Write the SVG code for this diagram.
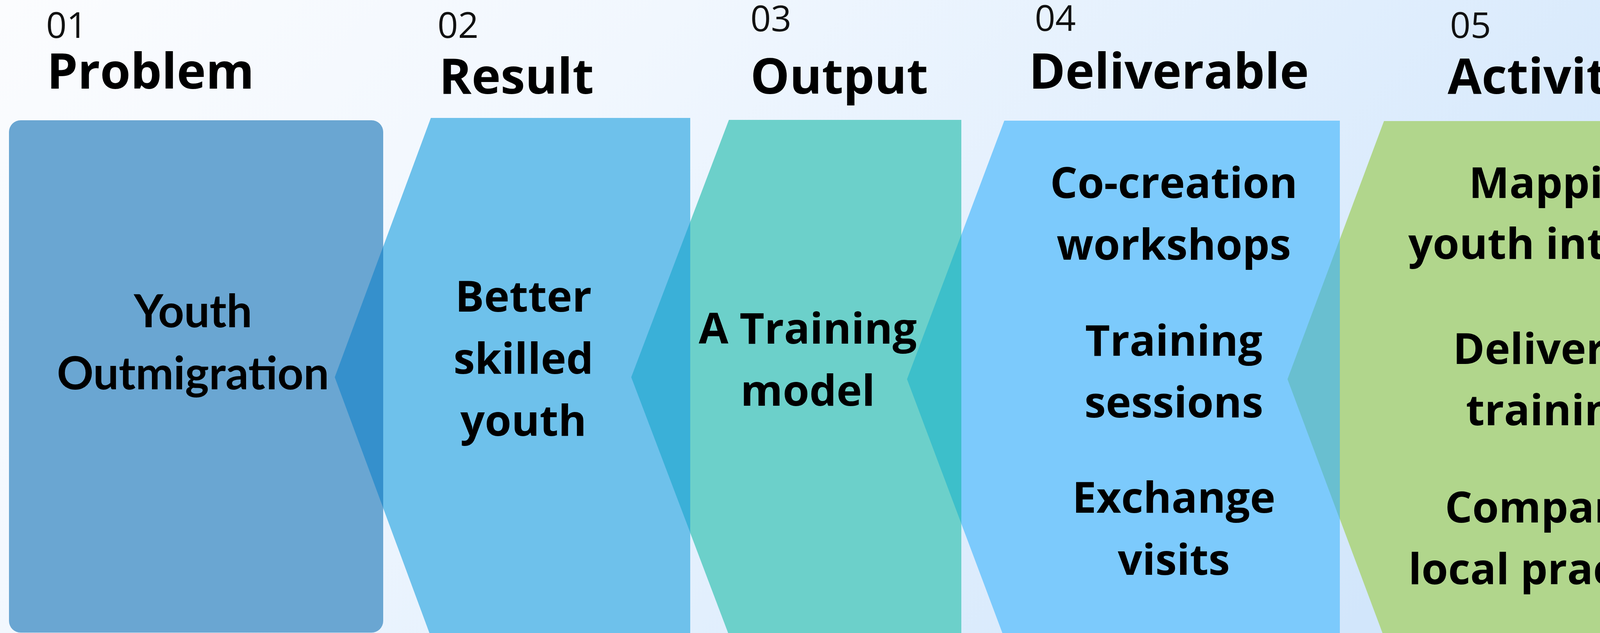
<svg xmlns="http://www.w3.org/2000/svg" width="4471" height="1621" viewBox="0 0 4471 1621">
  <defs>
    <linearGradient id="bg" x1="0" y1="0" x2="1" y2="0.35">
      <stop offset="0" stop-color="#fbfcfe"/>
      <stop offset="0.35" stop-color="#f1f7fe"/>
      <stop offset="0.7" stop-color="#e0eefd"/>
      <stop offset="1" stop-color="#d2e6fb"/>
    </linearGradient>
    <style>
      .num { font-family: "Open Sans", "Liberation Sans", sans-serif; font-weight: 400; font-size: 92px; fill: #111; }
      .head { font-family: "Open Sans", "Liberation Sans", sans-serif; font-weight: 700; font-size: 126px; fill: #000; }
      .body { font-family: "Open Sans", "Liberation Sans", sans-serif; font-weight: 700; font-size: 110px; fill: #000; text-anchor: middle; }
      .body2 { font-family: "Lato", "Liberation Sans", sans-serif; font-weight: 700; font-size: 116px; fill: #000; text-anchor: middle; }
    </style>
  </defs>

  <rect x="0" y="0" width="4471" height="1621" fill="url(#bg)"/>

  <!-- shapes, bottom to top -->
  <g id="activity">
    <polygon points="3543,310 4480,310 4480,1650 3550,1650 3296,971" fill="#b1d68c"/>
    <circle cx="4629" cy="1464" r="273" fill="none" stroke="#c1de88" stroke-width="65"/>
  </g>
  <g id="deliverable">
    <polygon points="2571,309 3430,309 3430,1650 2577,1650 2322,971" fill="#7ccafc"/>
  </g>
  <g id="output">
    <polygon points="1866,307 2461,307 2461,1650 1875,1650 1616,966" fill="#6cd0ca"/>
  </g>
  <g id="result">
    <polygon points="1103,302 1767,302 1767,1650 1110,1650 857,966" fill="#6ec1eb"/>
  </g>
  <g id="problem">
    <rect x="23" y="308" width="958" height="1312" rx="30" ry="30" fill="#6aa6d2"/>
  </g>

  <!-- overlap regions between adjacent chevrons -->
  <g id="connectors">
    <polygon points="981,631 857,966 981,1301" fill="#3590cc"/>
    <polygon points="1767,568 1616,966 1767,1364" fill="#3ab0d8"/>
    <polygon points="2461,601 2322,971 2461,1341" fill="#3dbfca"/>
    <polygon points="3430,612 3296,971 3430,1330" fill="#69bfd0"/>
  </g>

  <!-- headers -->
  <g id="headers">
    <text class="num" x="118" y="97">01</text>
    <text class="head" x="120" y="227">Problem</text>
    <text class="num" x="1120" y="97">02</text>
    <text class="head" x="1124" y="240">Result</text>
    <text class="num" x="1921" y="80">03</text>
    <text class="head" x="1921" y="240">Output</text>
    <text class="num" x="2649" y="79">04</text>
    <text class="head" x="2634" y="227">Deliverable</text>
    <text class="num" x="3712" y="97">05</text>
    <text class="head" x="3706" y="240">Activity</text>
  </g>

  <!-- node labels -->
  <g id="problem-label">
    <text class="body2" x="494" y="838">Youth</text>
    <text class="body2" x="494" y="997">Outmigration</text>
  </g>
  <g id="result-label">
    <text class="body" x="1340" y="798">Better</text>
    <text class="body" x="1340" y="957">skilled</text>
    <text class="body" x="1340" y="1116">youth</text>
  </g>
  <g id="output-label">
    <text class="body" x="2068" y="880">A Training</text>
    <text class="body" x="2068" y="1039">model</text>
  </g>
  <g id="deliverable-label">
    <text class="body" x="3005" y="507">Co-creation</text>
    <text class="body" x="3005" y="665">workshops</text>
    <text class="body" x="3005" y="911">Training</text>
    <text class="body" x="3005" y="1069">sessions</text>
    <text class="body" x="3005" y="1313">Exchange</text>
    <text class="body" x="3005" y="1472">visits</text>
  </g>
  <g id="activity-label">
    <text class="body" x="3999" y="507">Mapping</text>
    <text class="body" x="3999" y="663">youth interest</text>
    <text class="body" x="3999" y="932">Delivering</text>
    <text class="body" x="3999" y="1089">trainings</text>
    <text class="body" x="3999" y="1338">Comparing</text>
    <text class="body" x="3999" y="1496">local practices</text>
  </g>
</svg>
